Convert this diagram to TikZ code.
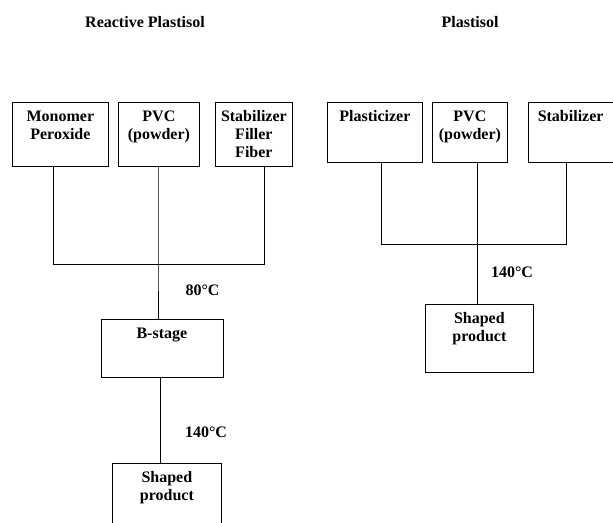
\documentclass[tikz,border=0pt]{standalone}
\usepackage{fontspec}
\setmainfont{Liberation Serif}
\newcommand{\bx}[3]{\parbox[t][#2pt][t]{#1pt}{\centering\bfseries\fontsize{16}{18}\selectfont\rule{0pt}{19pt}#3}}
\begin{document}
\begin{tikzpicture}[x=1pt,y=-1pt, line width=0.8pt,
  box/.style={draw, inner sep=0pt, anchor=north west},
  lbl/.style={font=\bfseries\fontsize{16}{18}\selectfont, inner sep=0pt}]
\useasboundingbox (0,0) rectangle (613,522);
\fill[white] (0,0) rectangle (613,522);
\clip (0,0) rectangle (613,522);
% titles
\node[lbl] (tl) at (145,22) {Reactive Plastisol};
\node[lbl] (tr) at (470,22) {Plastisol};
% top boxes
\node[box] (b1) at (12,102) {\bx{96}{64}{Monomer\\Peroxide}};
\node[box] (b2) at (118,102) {\bx{81}{64}{PVC\\(powder)}};
\node[box] (b3) at (215,102) {\bx{77}{64}{Stabilizer\\Filler\\Fiber}};
\node[box] (b4) at (327,102) {\bx{95}{60}{Plasticizer}};
\node[box] (b5) at (432,102) {\bx{75}{60}{PVC\\(powder)}};
\node[box] (b6) at (528,102) {\bx{84.5}{60}{Stabilizer}};
% lower boxes
\node[box] (bs) at (100.5,319) {\bx{122}{58}{B-stage}};
\node[box] (sp1) at (112,463) {\bx{109}{80}{Shaped\\product}};
\node[box] (sp2) at (425,304) {\bx{108}{68}{Shaped\\product}};
% junction coordinates
\coordinate (l1) at (53,264);
\coordinate (jl) at (158,264);
\coordinate (l3) at (264,264);
\coordinate (jl2) at (160,400);
\coordinate (r1) at (381.7,244);
\coordinate (r2) at (477.3,244);
\coordinate (r3) at (566.7,244);
% left connectors
\draw (l1 |- b1.south) -- (l1) -- (l3) -- (l3 |- b3.south);
\draw (jl |- b2.south) -- (jl) -- (jl |- bs.north);
\draw (jl2 |- bs.south) -- (jl2 |- sp1.north);
% right connectors
\draw (r1 |- b4.south) -- (r1) -- (r3) -- (r3 |- b6.south);
\draw (r2 |- b5.south) -- (r2) -- (r2 |- sp2.north);
% temperature labels
\node[lbl] (t80) at (202.5,290) {80°C};
\node[lbl] (t140a) at (206,432) {140°C};
\node[lbl] (t140b) at (512,272) {140°C};
\end{tikzpicture}
\end{document}
